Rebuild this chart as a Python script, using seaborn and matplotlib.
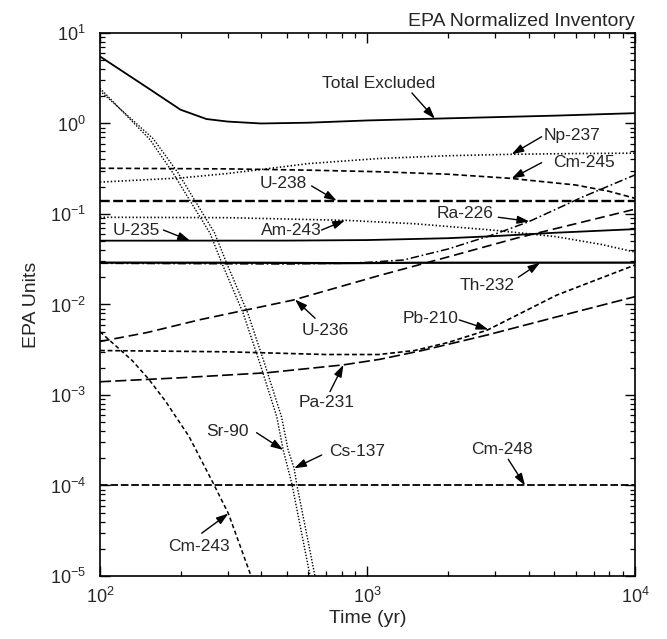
import numpy as np
import pandas as pd
import matplotlib
matplotlib.use("Agg")
import matplotlib.pyplot as plt
from matplotlib.ticker import LogLocator, NullFormatter
import seaborn as sns

# ---- inventory curves: time (yr) and EPA units ----
TOTAL_T = [100, 150, 200, 250, 300, 400, 600, 1000, 2000, 5000, 10000]
TOTAL_V = [5.5, 2.5, 1.42, 1.12, 1.05, 1.0, 1.02, 1.08, 1.14, 1.22, 1.30]

NP237_T = [100, 200, 300, 400, 600, 1100, 2000, 3500, 6000, 10000]
NP237_V = [0.225, 0.25, 0.28, 0.31, 0.36, 0.41, 0.44, 0.457, 0.465, 0.47]

CM245_T = [100, 300, 600, 1100, 2000, 3400, 6000, 8000, 10000]
CM245_V = [0.32, 0.315, 0.305, 0.293, 0.275, 0.248, 0.209, 0.178, 0.149]

U238_T = [100, 1000, 10000]
U238_V = [0.14, 0.14, 0.14]

AM243_T = [100, 300, 836, 1500, 3000, 5100, 7500, 10000]
AM243_V = [0.092, 0.091, 0.085, 0.078, 0.066, 0.056, 0.046, 0.038]

U235_T = [100, 500, 1000, 2000, 3000, 5000, 10000]
U235_V = [0.0507, 0.0508, 0.0515, 0.054, 0.057, 0.062, 0.068]

TH232_T = [100, 400, 800, 1500, 10000]
TH232_V = [0.029, 0.0289, 0.0286, 0.0289, 0.029]

RA226_T = [100, 500, 800, 1000, 1361, 2000, 3000, 4000, 6400, 10000]
RA226_V = [0.0285, 0.028, 0.0285, 0.0292, 0.031, 0.041, 0.060, 0.082, 0.155, 0.27]

U236_T = [100, 150, 237, 528, 1114, 1815, 3600, 6000, 10000]
U236_V = [0.0039, 0.0049, 0.0068, 0.0112, 0.021, 0.031, 0.054, 0.078, 0.113]

PB210_T = [100, 300, 700, 1100, 1500, 2000, 2800, 5100, 10000]
PB210_V = [3.1e-3, 3.0e-3, 2.8e-3, 2.8e-3, 3.1e-3, 3.8e-3, 5.2e-3, 0.0127, 0.0273]

PA231_T = [100, 200, 420, 811, 1114, 1600, 2800, 5100, 10000]
PA231_V = [1.4e-3, 1.55e-3, 1.76e-3, 2.15e-3, 2.48e-3, 3.1e-3, 4.6e-3, 7.3e-3, 0.0122]

CM248_T = [100, 1000, 10000]
CM248_V = [1e-4, 1e-4, 1e-4]

SR90_T = [100, 154, 188, 258, 285, 343, 396, 458, 484, 521, 609, 620]
SR90_V = [2.45, 0.66, 0.28, 0.061, 0.029, 8.0e-3, 2.24e-3, 5.75e-4, 2.47e-4, 1.06e-4, 1.03e-5, 7e-6]

CS137_T = [100, 158, 195, 268, 297, 357, 412, 477, 505, 532, 543, 635, 650]
CS137_V = [2.3, 0.68, 0.29, 0.062, 0.029, 8.0e-3, 2.24e-3, 5.75e-4, 2.47e-4, 1.55e-4, 1.06e-4, 1.03e-5, 7e-6]

CM243_T = [100, 132, 152, 176, 194, 215, 265, 302, 364, 375]
CM243_V = [5.0e-3, 2.4e-3, 1.5e-3, 8.5e-4, 5.5e-4, 3.5e-4, 1.06e-4, 4.9e-5, 1.07e-5, 8e-6]

SERIES = {
    "Total Excluded": (TOTAL_T, TOTAL_V),
    "Np-237": (NP237_T, NP237_V),
    "Cm-245": (CM245_T, CM245_V),
    "U-238": (U238_T, U238_V),
    "Am-243": (AM243_T, AM243_V),
    "U-235": (U235_T, U235_V),
    "Th-232": (TH232_T, TH232_V),
    "Ra-226": (RA226_T, RA226_V),
    "U-236": (U236_T, U236_V),
    "Pb-210": (PB210_T, PB210_V),
    "Pa-231": (PA231_T, PA231_V),
    "Cm-248": (CM248_T, CM248_V),
    "Sr-90": (SR90_T, SR90_V),
    "Cs-137": (CS137_T, CS137_V),
    "Cm-243": (CM243_T, CM243_V),
}

# line style and width per nuclide
STYLES = {
    "Total Excluded": ("-", 1.3),
    "Np-237": ((0, (1.0, 1.6)), 1.2),
    "Cm-245": ((0, (4, 2.2)), 1.2),
    "U-238": ((0, (7, 2.5)), 1.7),
    "Am-243": ((0, (1.0, 1.6)), 1.2),
    "U-235": ("-", 1.3),
    "Th-232": ("-", 1.6),
    "Ra-226": ((0, (6, 2, 1.2, 2)), 1.1),
    "U-236": ((0, (7, 3.5)), 1.2),
    "Pb-210": ((0, (3.5, 2)), 1.2),
    "Pa-231": ((0, (8, 3)), 1.2),
    "Cm-248": ((0, (5.5, 2)), 1.3),
    "Sr-90": ((0, (1.0, 1.2)), 1.0),
    "Cs-137": ((0, (1.0, 1.2)), 1.0),
    "Cm-243": ((0, (3, 2)), 1.1),
}

# label text position, arrow tail and arrow-head time (head sits on the curve)
LABELS = {
    "Total Excluded": ((1104, 2.80), (1466, 2.17), 1786),
    "Np-237": ((5834, 0.728), (4477, 0.714), 3459),
    "Cm-245": ((6442, 0.367), (4477, 0.369), 3459),
    "U-238": ((485, 0.218), (618, 0.204), 767),
    "Ra-226": ((2312, 0.100), (3083, 0.092), 4027),
    "Am-243": ((518, 0.0665), (674, 0.0665), 824),
    "U-235": ((137, 0.0649), (172.6, 0.0665), 217),
    "Th-232": ((2812, 0.0164), (3664, 0.020), 4417),
    "U-236": ((693, 5.22e-3), (637, 7.05e-3), 536),
    "Pb-210": ((1722, 6.92e-3), (2203, 6.75e-3), 2831),
    "Pa-231": ((703, 8.16e-4), (724, 1.09e-3), 813),
    "Sr-90": ((300, 3.93e-4), (385, 3.83e-4), 484),
    "Cs-137": ((914, 2.37e-4), (674, 2.17e-4), 532),
    "Cm-248": ((3177, 2.47e-4), (3359, 1.95e-4), 3880),
    "Cm-243": ((234, 2.11e-5), (240, 2.97e-5), 302),
}

sns.set_style("ticks")
plt.rcParams["font.family"] = ["Liberation Sans", "DejaVu Sans"]
plt.rcParams["mathtext.fontset"] = "custom"
plt.rcParams["mathtext.rm"] = "Liberation Sans"
plt.rcParams["mathtext.it"] = "Liberation Sans:italic"
plt.rcParams["mathtext.bf"] = "Liberation Sans:bold"
plt.rcParams["lines.scale_dashes"] = False

fig = plt.figure(figsize=(6.67, 6.39), dpi=100)
ax = fig.add_axes([0.1499, 0.0986, 0.8021, 0.8498])
ax.set_xscale("log")
ax.set_yscale("log")

for name, (t, v) in SERIES.items():
    ls, lw = STYLES[name]
    df = pd.DataFrame({"Time (yr)": t, "EPA Units": v})
    sns.lineplot(data=df, x="Time (yr)", y="EPA Units", ax=ax, color="black",
                 linestyle=ls, linewidth=lw, errorbar=None, sort=False)

ax.set_xlim(100, 1e4)
ax.set_ylim(1e-5, 10)

arrow_kw = dict(arrowstyle="-|>,head_length=0.6,head_width=0.2",
                color="black", lw=1.0, shrinkA=0, shrinkB=0, mutation_scale=12)
for name, (txt, tail, t_head) in LABELS.items():
    t, v = SERIES[name]
    v_head = 10 ** np.interp(np.log10(t_head), np.log10(t), np.log10(v))
    ax.annotate("", xy=(t_head, v_head), xytext=tail, arrowprops=arrow_kw)
    ax.text(txt[0], txt[1], name, ha="center", va="center", fontsize=12.5)

ax.xaxis.set_major_locator(LogLocator(base=10, numticks=10))
ax.xaxis.set_minor_locator(LogLocator(base=10, subs=np.arange(2, 10), numticks=30))
ax.yaxis.set_major_locator(LogLocator(base=10, numticks=10))
ax.yaxis.set_minor_locator(LogLocator(base=10, subs=np.arange(2, 10), numticks=30))
ax.xaxis.set_minor_formatter(NullFormatter())
ax.yaxis.set_minor_formatter(NullFormatter())

ax.tick_params(which="both", direction="in", top=True, right=True, color="black")
ax.tick_params(which="major", length=7, width=1.0, labelsize=13)
ax.tick_params(which="minor", length=3.5, width=0.9)
ax.tick_params(axis="y", which="major", pad=10)
ax.tick_params(axis="x", which="major", pad=8)
for sp in ax.spines.values():
    sp.set_linewidth(1.2)
    sp.set_color("black")

ax.set_xlabel("Time (yr)", fontsize=14)
ax.set_ylabel("EPA Units", fontsize=14)
ax.yaxis.set_label_coords(-0.112, 0.5)
ax.xaxis.set_label_coords(0.5, -0.062)
ax.set_title("EPA Normalized Inventory", loc="right", fontsize=14, pad=5)

fig.savefig("out.png", dpi=100)
